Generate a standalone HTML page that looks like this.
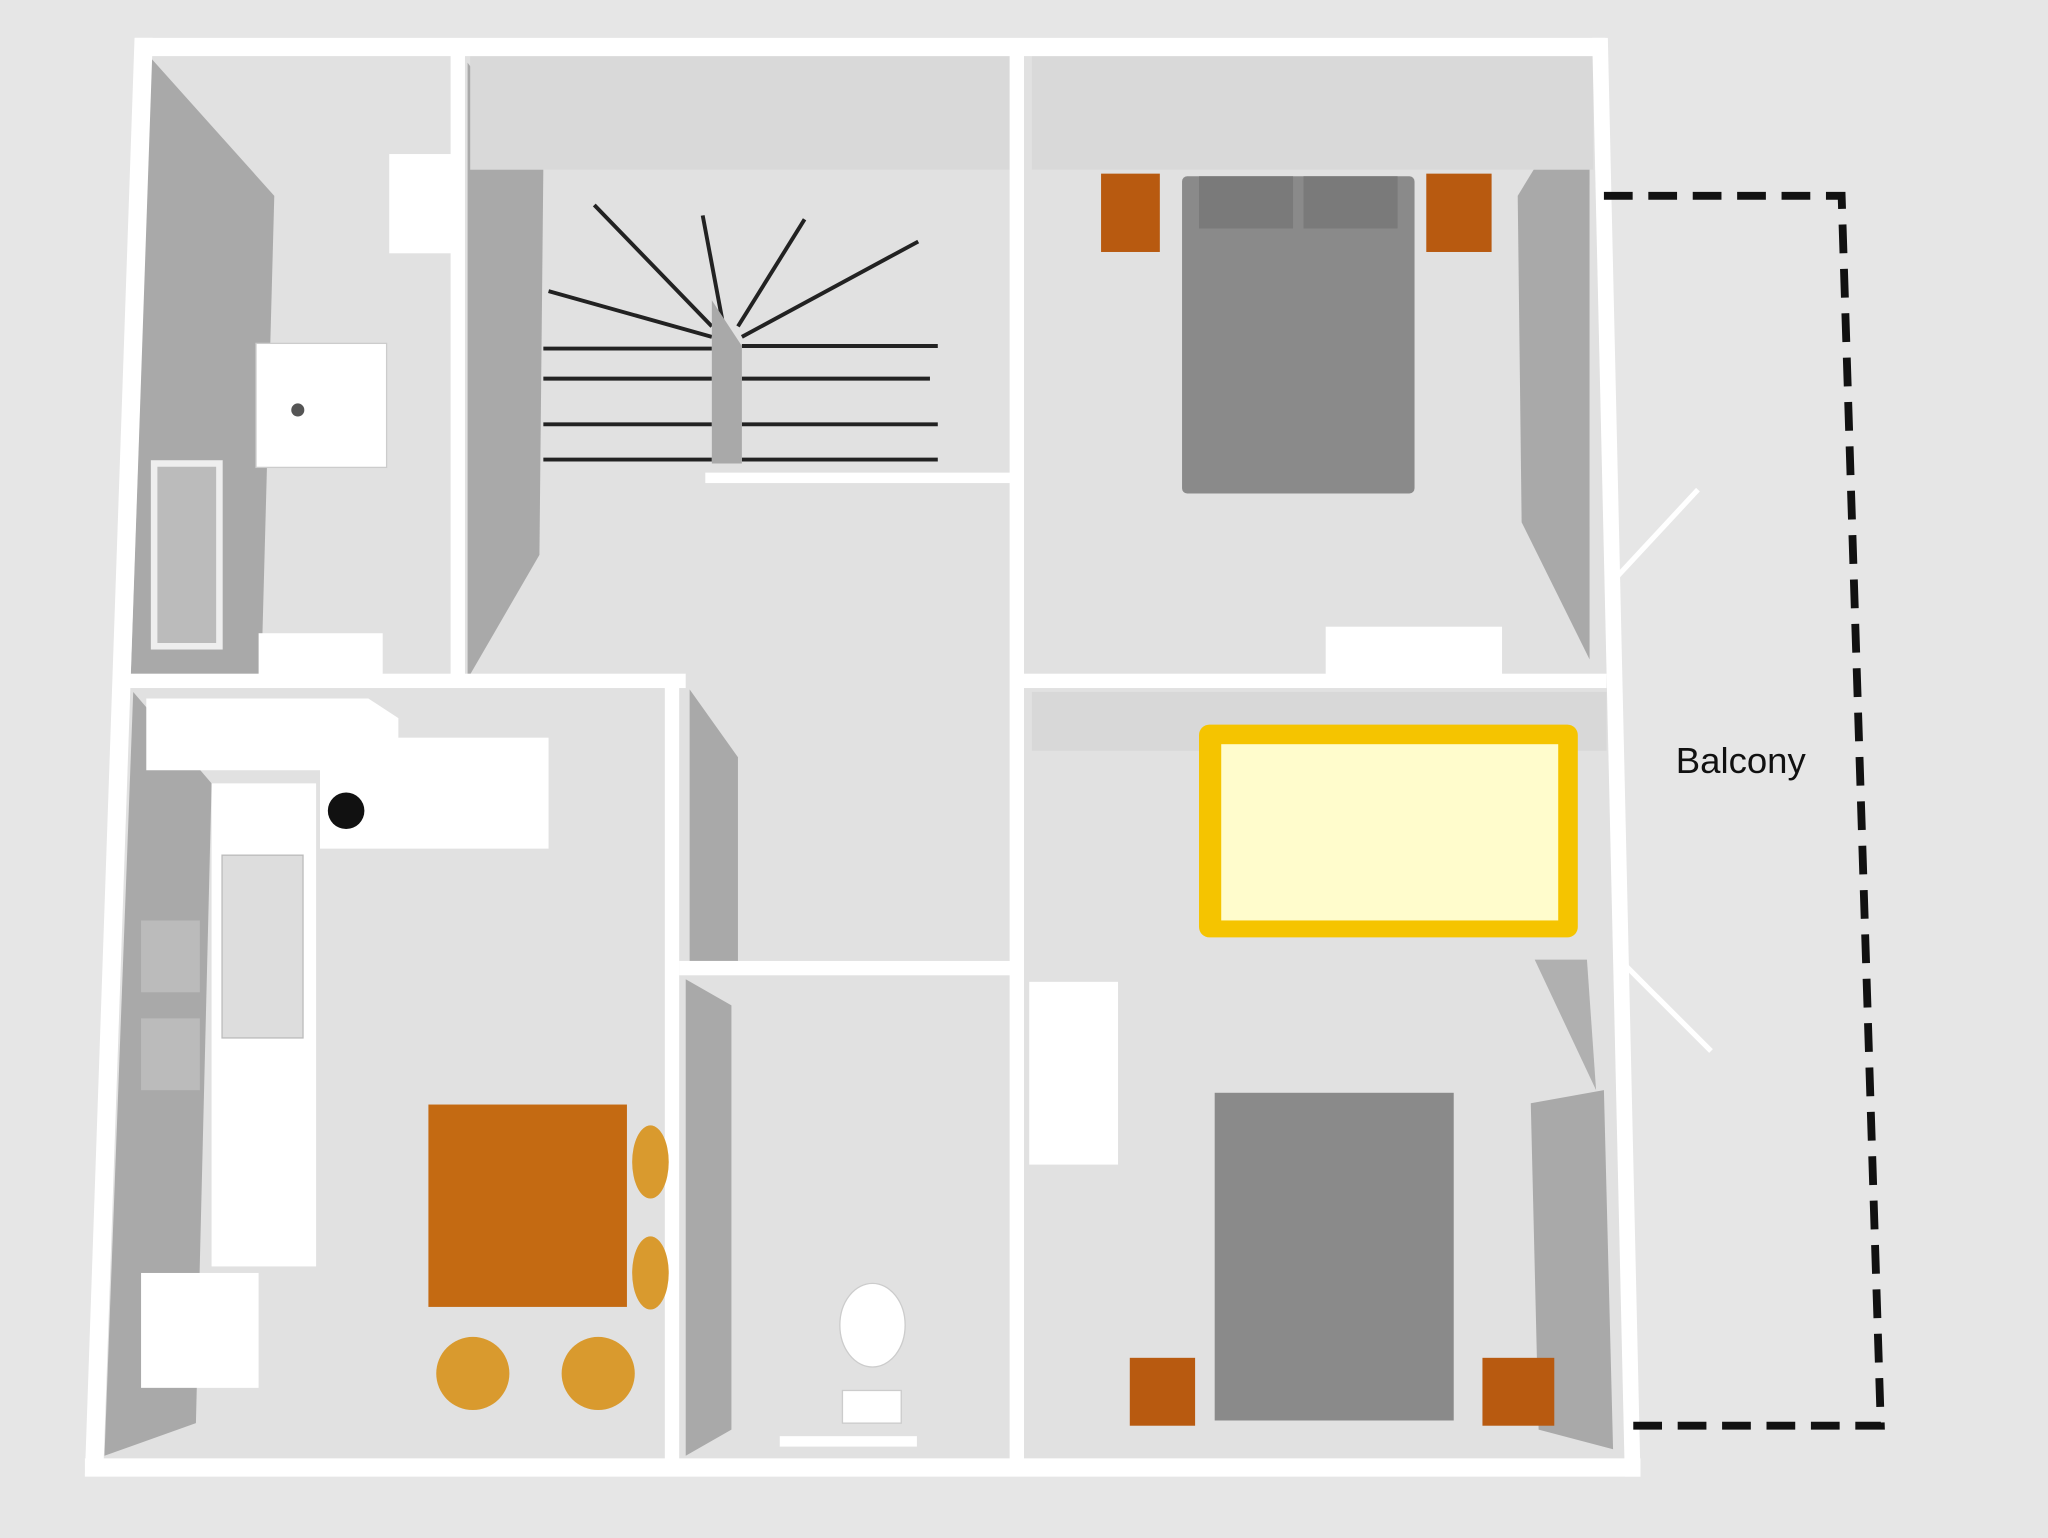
<!DOCTYPE html>
<html><head><meta charset="utf-8"><style>
html,body{margin:0;padding:0;background:#e6e6e6;}
svg{display:block;}
</style></head><body>
<svg width="2048" height="1538" viewBox="0 0 1568 1178" preserveAspectRatio="none" xmlns="http://www.w3.org/2000/svg">
<rect width="1568" height="1178" fill="#e6e6e6"/>
<polygon points="108,35 1225,35 1250,1125 70,1125" fill="#e1e1e1"/>
<polygon points="116,45 210,150 200,520 100,520" fill="#a9a9a9"/>
<polygon points="358,48 416,128 413,425 358,520" fill="#a9a9a9"/>
<polygon points="1162,150 1217,60 1217,505 1165,400" fill="#a9a9a9"/>
<polygon points="102,530 162,600 150,1090 80,1115" fill="#a9a9a9"/>
<polygon points="528,528 565,580 565,740 528,740" fill="#a9a9a9"/>
<polygon points="525,750 560,770 560,1095 525,1115" fill="#a9a9a9"/>
<polygon points="1172,845 1228,835 1235,1110 1178,1095" fill="#a9a9a9"/>
<polygon points="1175,735 1215,735 1222,835" fill="#b0b0b0"/>
<rect x="360" y="40" width="415" height="90" fill="#d9d9d9"/>
<rect x="790" y="40" width="430" height="90" fill="#d9d9d9"/>
<rect x="790" y="530" width="440" height="45" fill="#d8d8d8"/>
<rect x="298" y="118" width="48" height="76" fill="#fff"/>
<rect x="196" y="263" width="100" height="95" fill="#fff" stroke="#ccc"/>
<circle cx="228" cy="314" r="5" fill="#555"/>
<rect x="118" y="355" width="50" height="140" fill="#bbb" stroke="#eee" stroke-width="5"/>
<rect x="198" y="485" width="95" height="35" fill="#fff"/>
<g stroke="#222" stroke-width="3">
<line x1="416" y1="267" x2="545" y2="267"/><line x1="416" y1="290" x2="545" y2="290"/>
<line x1="416" y1="325" x2="545" y2="325"/><line x1="416" y1="352" x2="545" y2="352"/>
<line x1="568" y1="265" x2="718" y2="265"/><line x1="568" y1="290" x2="712" y2="290"/>
<line x1="568" y1="325" x2="718" y2="325"/><line x1="568" y1="352" x2="718" y2="352"/>
<line x1="420" y1="223" x2="545" y2="258"/><line x1="455" y1="157" x2="545" y2="250"/>
<line x1="538" y1="165" x2="553" y2="245"/><line x1="616" y1="168" x2="565" y2="250"/>
<line x1="703" y1="185" x2="568" y2="258"/>
</g>
<polygon points="545,230 568,265 568,355 545,355" fill="#a9a9a9"/>
<g fill="#fff">
<polygon points="103,29 1229,29 1231,43 103,43"/>
<polygon points="103,29 117,29 79,1130 65,1130"/>
<polygon points="1219,29 1231,29 1256,1131 1244,1131"/>
<rect x="65" y="1117" width="1191" height="14"/>
<rect x="345" y="40" width="11" height="480"/>
<rect x="773" y="40" width="11" height="1082"/>
<rect x="95" y="516" width="430" height="11"/>
<rect x="780" y="516" width="450" height="11"/>
<rect x="509" y="520" width="11" height="600"/>
<rect x="520" y="736" width="260" height="11"/>
<rect x="540" y="362" width="240" height="8"/>
</g>
<g stroke="#fff" stroke-width="4">
<line x1="1235" y1="445" x2="1300" y2="375"/>
<line x1="1245" y1="740" x2="1310" y2="805"/>
</g>
<polygon points="112,535 282,535 305,550 305,600 280,590 112,590" fill="#fff"/>
<rect x="245" y="565" width="175" height="85" fill="#fff"/>
<circle cx="265" cy="621" r="14" fill="#111"/>
<rect x="162" y="600" width="80" height="370" fill="#fff"/>
<rect x="170" y="655" width="62" height="140" fill="#ddd" stroke="#bbb"/>
<rect x="108" y="975" width="90" height="88" fill="#fff"/>
<rect x="108" y="705" width="45" height="55" fill="#bbb"/><rect x="108" y="780" width="45" height="55" fill="#bbb"/>
<rect x="328" y="846" width="152" height="155" fill="#c46a12"/>
<g fill="#d99a2e">
<ellipse cx="498" cy="890" rx="14" ry="28"/><ellipse cx="498" cy="975" rx="14" ry="28"/>
<ellipse cx="362" cy="1052" rx="28" ry="28"/><ellipse cx="458" cy="1052" rx="28" ry="28"/>
</g>
<ellipse cx="668" cy="1015" rx="25" ry="32" fill="#fff" stroke="#ccc"/>
<rect x="645" y="1065" width="45" height="25" fill="#fff" stroke="#ccc"/>
<rect x="597" y="1100" width="105" height="8" fill="#fff"/>
<rect x="905" y="135" width="178" height="243" fill="#8a8a8a" rx="4"/>
<rect x="918" y="135" width="72" height="40" fill="#7a7a7a"/><rect x="998" y="135" width="72" height="40" fill="#7a7a7a"/>
<rect x="843" y="133" width="45" height="60" fill="#b85a10"/>
<rect x="1092" y="133" width="50" height="60" fill="#b85a10"/>
<rect x="1015" y="480" width="135" height="40" fill="#fff"/>
<rect x="788" y="752" width="68" height="140" fill="#fff"/>
<rect x="918" y="555" width="290" height="163" fill="#f5c400" rx="8"/>
<rect x="935" y="570" width="258" height="135" fill="#fffccc"/>
<rect x="930" y="837" width="183" height="251" fill="#8a8a8a"/>
<rect x="865" y="1040" width="50" height="52" fill="#b85a10"/>
<rect x="1135" y="1040" width="55" height="52" fill="#b85a10"/>
<polyline points="1228,150 1410,150 1440,1092 1250,1092" fill="none" stroke="#111" stroke-width="6" stroke-dasharray="22,12"/>
<text x="1283" y="592" font-family="'Liberation Sans',sans-serif" font-size="28" fill="#111">Balcony</text>
</svg>
</body></html>
